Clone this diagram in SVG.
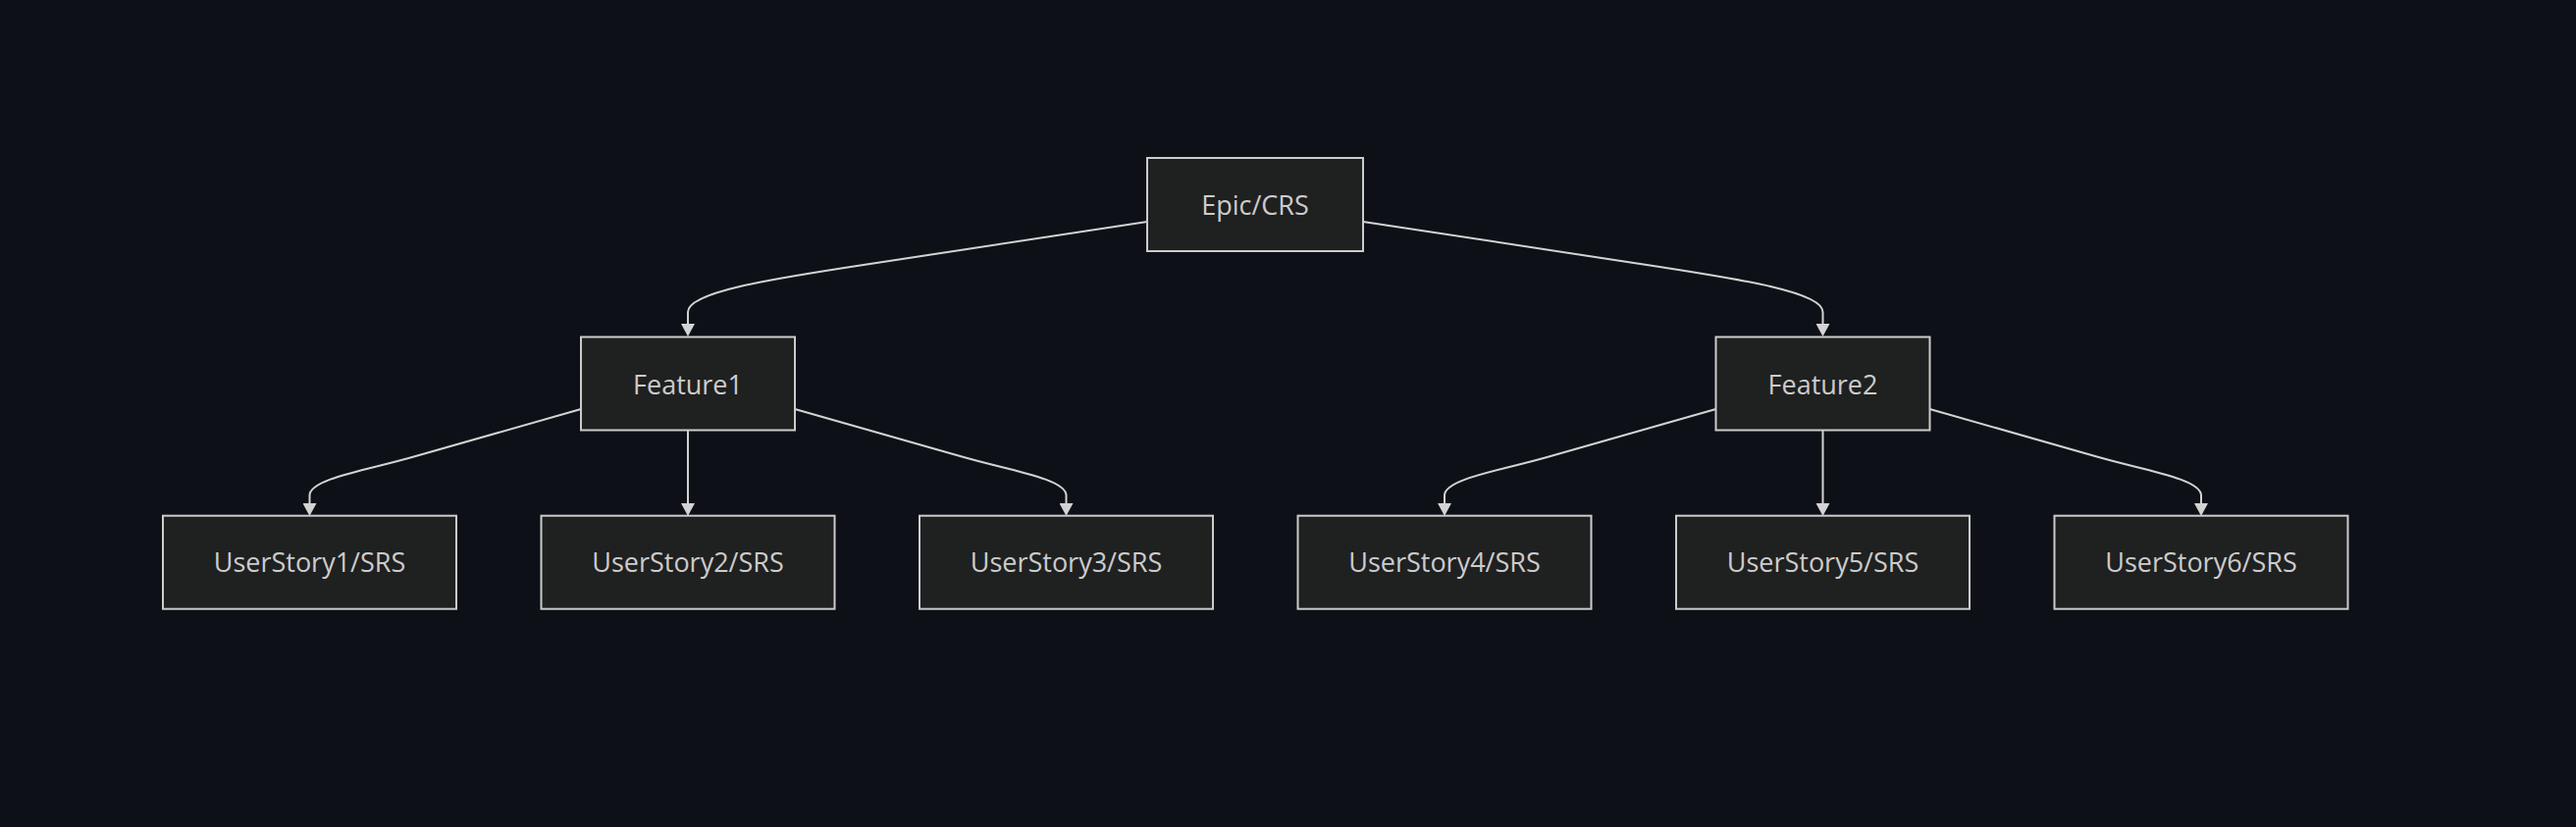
<svg xmlns="http://www.w3.org/2000/svg" width="2625" height="843" viewBox="0 0 2625 843">
<defs>
<style>
.node rect{fill:#1f2020;stroke:#cccccc;stroke-width:2}
.node text{fill:#cccccc;font-family:"Open Sans","Noto Sans","DejaVu Sans",sans-serif;font-size:27px;text-anchor:middle}
.edges path{fill:none;stroke:#d3d3d3;stroke-width:2;marker-end:url(#arrow)}
</style>
<marker id="arrow" viewBox="0 0 13 14" refX="0" refY="7" markerWidth="13" markerHeight="14" markerUnits="userSpaceOnUse" orient="auto">
<path d="M0,0 L13,7 L0,14 z" fill="#d3d3d3"/>
</marker>
</defs>
<rect x="0" y="0" width="2625" height="843" fill="#0d1117"/>
<g class="edges" id="connectors">
<path d="M1169,226 L880,270 C780,285.2 701,298 701,318 L701,330"/>
<path d="M1389,226 L1678,270 C1778,285.2 1857.5,298 1857.5,318 L1857.5,330"/>
<path d="M592,417 L420,466 C375,479 315.5,488 315.5,505 L315.5,513"/>
<path d="M701,438.5 L701,513"/>
<path d="M810,417 L982,466 C1027,479 1086.5,488 1086.5,505 L1086.5,513"/>
<path d="M1748.5,417 L1576.5,466 C1531.5,479 1472,488 1472,505 L1472,513"/>
<path d="M1857.5,438.5 L1857.5,513"/>
<path d="M1966.5,417 L2138.5,466 C2183.5,479 2243,488 2243,505 L2243,513"/>
</g>
<g class="node" id="epic"><rect x="1169" y="161" width="220" height="95"/><text x="1279" y="219">Epic/CRS</text></g>
<g class="node" id="feature1"><rect x="592" y="343.5" width="218" height="95"/><text x="701" y="401.5">Feature1</text></g>
<g class="node" id="feature2"><rect x="1748.5" y="343.5" width="218" height="95"/><text x="1857.5" y="401.5">Feature2</text></g>
<g class="node" id="us1"><rect x="166" y="525.7" width="299" height="95"/><text x="315.5" y="583">UserStory1/SRS</text></g>
<g class="node" id="us2"><rect x="551.5" y="525.7" width="299" height="95"/><text x="701" y="583">UserStory2/SRS</text></g>
<g class="node" id="us3"><rect x="937" y="525.7" width="299" height="95"/><text x="1086.5" y="583">UserStory3/SRS</text></g>
<g class="node" id="us4"><rect x="1322.5" y="525.7" width="299" height="95"/><text x="1472" y="583">UserStory4/SRS</text></g>
<g class="node" id="us5"><rect x="1708" y="525.7" width="299" height="95"/><text x="1857.5" y="583">UserStory5/SRS</text></g>
<g class="node" id="us6"><rect x="2093.5" y="525.7" width="299" height="95"/><text x="2243" y="583">UserStory6/SRS</text></g>
</svg>
